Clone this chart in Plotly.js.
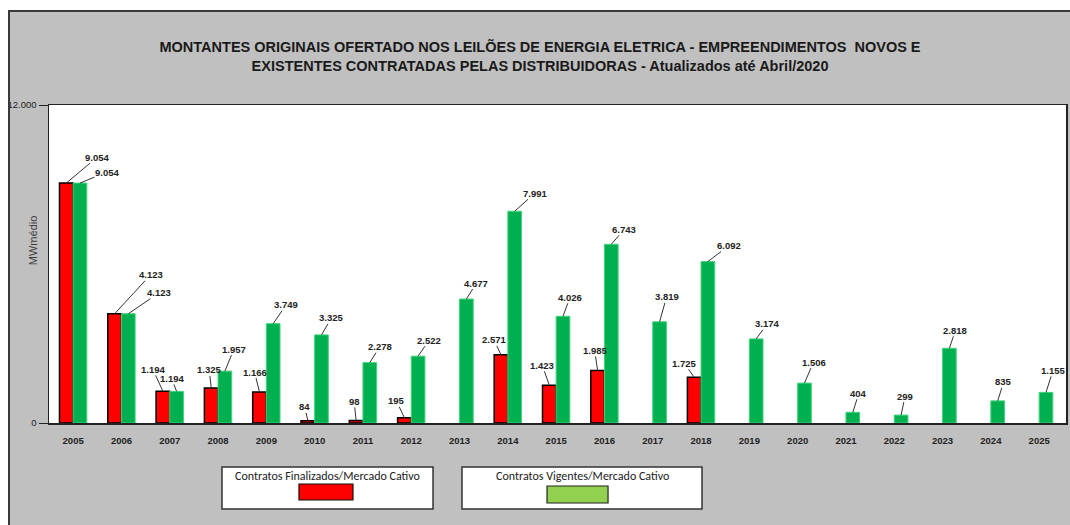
<!DOCTYPE html>
<html>
<head>
<meta charset="utf-8">
<script src="https://cdn.plot.ly/plotly-3.0.1.min.js"></script>
<style>
  html, body { margin: 0; padding: 0; background: #ffffff; width: 1070px; height: 525px; overflow: hidden; }
  #chart { position: absolute; left: 0; top: 0; width: 1070px; height: 525px; }
  .strip { position: absolute; background: #ffffff; z-index: 5; pointer-events: none; }
  #frame { position: absolute; left: 8px; top: 10px; width: 1062px; height: 515px; z-index: 6;
           border-top: 2px solid #3a3a3a; border-left: 2px solid #3a3a3a; pointer-events: none; box-sizing: border-box; }
</style>
</head>
<body>
<div id="chart"></div>
<div class="strip" style="left:0;top:0;width:1070px;height:10px"></div>
<div class="strip" style="left:0;top:0;width:8px;height:525px"></div>
<div id="frame"></div>
<script>
// ---- data ----
const years = ['2005','2006','2007','2008','2009','2010','2011','2012','2013','2014','2015',
               '2016','2017','2018','2019','2020','2021','2022','2023','2024','2025'];
const finalizados = [9054, 4123, 1194, 1325, 1166, 84, 98, 195, null, 2571, 1423,
                     1985, null, 1725, null, null, null, null, null, null, null];
const vigentes = [9054, 4123, 1194, 1957, 3749, 3325, 2278, 2522, 4677, 7991, 4026,
                  6743, 3819, 6092, 3174, 1506, 404, 299, 2818, 835, 1155];
const nameFinalizados = 'Contratos Finalizados/Mercado Cativo';
const nameVigentes = 'Contratos Vigentes/Mercado Cativo';
const yTickVals = [0, 12000];
const yTickText = ['0', '12.000'];
const chartTitle = 'MONTANTES ORIGINAIS OFERTADO NOS LEILÕES DE ENERGIA ELETRICA - EMPREENDIMENTOS  NOVOS E<br>EXISTENTES CONTRATADAS PELAS DISTRIBUIDORAS - Atualizados até Abril/2020';
const yTitle = 'MWmédio';

// label leader offsets (pixels, text centre relative to bar top)
const offFinal = [[31,-26],[36,-39],[-10,-22],[-2,-18],[-5,-20],[-3,-14],[-2,-19],[-8,-17],null,[-7,-15],[-7,-20],
                  [-3,-20],null,[-10,-14],null,null,null,null,null,null,null];
const offVig = [[27,-11],[31,-21],[-5,-13],[9,-22],[13,-19],[10,-17],[10,-16],[11,-16],[10,-16],[20,-18],[7,-19],
                [13,-15],[7,-25],[21,-16],[11,-15],[9,-21],[6,-19],[4,-19],[6,-18],[6,-19],[7,-22]];

const fmt = v => v.toString().replace(/\B(?=(\d{3})+(?!\d))/g, '.');

const bargap = 0.434;
const half = (1 - bargap) / 4;

const traces = [
  { type: 'bar', name: nameFinalizados, x: years, y: finalizados,
    marker: { color: '#ff0000', line: { color: '#000000', width: 1.5 } }, hoverinfo: 'x+y' },
  { type: 'bar', name: nameVigentes, x: years, y: vigentes,
    marker: { color: '#00b050', line: { color: '#3fd47a', width: 1 } }, hoverinfo: 'x+y' }
];

const annotations = [];
const labelFont = { family: 'Liberation Sans, Arial, sans-serif', size: 9.5, color: '#222222' };
function addLabels(vals, offs, dx) {
  vals.forEach((v, i) => {
    if (v === null || v === undefined) return;
    const o = offs[i] || [8, -18];
    annotations.push({
      x: i + dx, y: v, xref: 'x', yref: 'y', text: '<b>' + fmt(v) + '</b>',
      showarrow: true, arrowhead: 0, arrowwidth: 1, arrowcolor: '#333333',
      ax: o[0], ay: o[1], standoff: 0, startstandoff: 0, font: labelFont,
      borderpad: 0
    });
  });
}
addLabels(finalizados, offFinal, -half);
addLabels(vigentes, offVig, half);

// y title
annotations.push({ xref: 'paper', yref: 'paper', x: -0.0157, y: 0.575, xanchor: 'center', yanchor: 'middle',
  text: yTitle, showarrow: false, textangle: -90,
  font: { family: 'Liberation Sans, Arial, sans-serif', size: 11, color: '#404040' } });

// legend boxes
const legFont = { family: 'Carlito, Noto Sans, Liberation Sans, sans-serif', size: 12, color: '#222222' };
annotations.push({ xref: 'paper', yref: 'paper', x: 0.2738, y: -0.1667, text: nameFinalizados,
  showarrow: false, font: legFont, xanchor: 'center', yanchor: 'middle' });
annotations.push({ xref: 'paper', yref: 'paper', x: 0.5241, y: -0.1667, text: nameVigentes,
  showarrow: false, font: legFont, xanchor: 'center', yanchor: 'middle' });

const shapes = [
  { type: 'rect', xref: 'paper', yref: 'paper', x0: 0.1701, x1: 0.3776, y0: -0.2704, y1: -0.1384,
    fillcolor: '#ffffff', line: { color: '#333333', width: 1.5 }, layer: 'below' },
  { type: 'rect', xref: 'paper', yref: 'paper', x0: 0.2458, x1: 0.2989, y0: -0.2421, y1: -0.1918,
    fillcolor: '#ff0000', line: { color: '#111111', width: 1.2 } },
  { type: 'rect', xref: 'paper', yref: 'paper', x0: 0.4061, x1: 0.6421, y0: -0.2704, y1: -0.1384,
    fillcolor: '#ffffff', line: { color: '#333333', width: 1.5 }, layer: 'below' },
  { type: 'rect', xref: 'paper', yref: 'paper', x0: 0.4897, x1: 0.5497, y0: -0.2516, y1: -0.1981,
    fillcolor: '#92d050', line: { color: '#222222', width: 1.2 } }
];

const layout = {
  width: 1070, height: 525,
  paper_bgcolor: '#c0c0c0', plot_bgcolor: '#ffffff',
  margin: { l: 49, r: 4, t: 105, b: 102 },
  barmode: 'group', bargap: bargap, bargroupgap: 0,
  showlegend: false,
  title: { text: chartTitle, xref: 'container', x: 0.5047, y: 0.901, yanchor: 'middle', xanchor: 'center',
    font: { family: 'Liberation Sans Narrow, Arial Narrow, sans-serif', size: 14.5, color: '#1a1a1a', weight: 'bold' } },
  xaxis: {
    type: 'category', showline: true, linecolor: '#222222', linewidth: 1.5, mirror: true,
    ticks: '', showgrid: false, ticklabelstandoff: 8,
    tickfont: { family: 'Liberation Sans, Arial, sans-serif', size: 9.5, color: '#222222', weight: 'bold' }
  },
  yaxis: {
    range: [0, 12000], tickvals: yTickVals, ticktext: yTickText,
    showline: true, linecolor: '#222222', linewidth: 1.5, mirror: true,
    ticks: 'outside', ticklen: 9, tickcolor: '#222222', tickwidth: 1,
    showgrid: false, zeroline: false,
    tickfont: { family: 'Liberation Sans, Arial, sans-serif', size: 9.5, color: '#222222' }
  },
  annotations: annotations,
  shapes: shapes
};

Plotly.newPlot('chart', traces, layout, { staticPlot: true });
</script>
</body>
</html>
